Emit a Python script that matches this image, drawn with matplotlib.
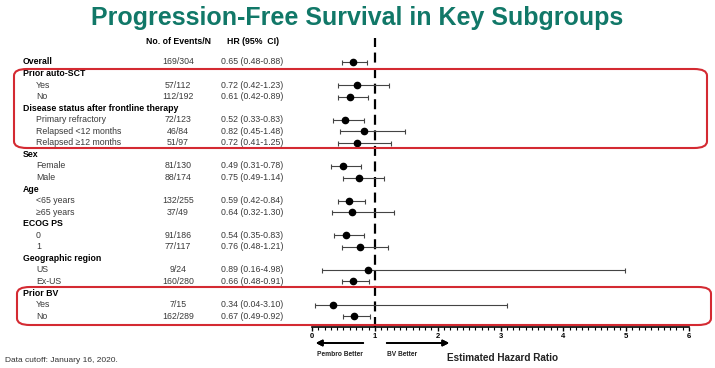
import matplotlib
matplotlib.use('Agg')
import matplotlib.pyplot as plt
from matplotlib.patches import FancyBboxPatch
from matplotlib.transforms import blended_transform_factory
from matplotlib.ticker import MultipleLocator

plt.rcParams['font.family'] = ['Liberation Sans', 'DejaVu Sans']

# subgroup rows
labels = ['Overall', 'Prior auto-SCT', 'Yes', 'No', 'Disease status after frontline therapy',
          'Primary refractory', 'Relapsed <12 months', 'Relapsed \u226512 months', 'Sex', 'Female', 'Male',
          'Age', '<65 years', '\u226565 years', 'ECOG PS', '0', '1', 'Geographic region', 'US', 'Ex-US',
          'Prior BV', 'Yes', 'No']
is_header = [True, True, False, False, True, False, False, False, True, False, False,
             True, False, False, True, False, False, True, False, False, True, False, False]
events = ['169/304', '', '57/112', '112/192', '', '72/123', '46/84', '51/97', '', '81/130', '88/174',
          '', '132/255', '37/49', '', '91/186', '77/117', '', '9/24', '160/280', '', '7/15', '162/289']
hr = [0.65, None, 0.72, 0.61, None, 0.52, 0.82, 0.72, None, 0.49, 0.75,
      None, 0.59, 0.64, None, 0.54, 0.76, None, 0.89, 0.66, None, 0.34, 0.67]
ci_lo = [0.48, None, 0.42, 0.42, None, 0.33, 0.45, 0.41, None, 0.31, 0.49,
         None, 0.42, 0.32, None, 0.35, 0.48, None, 0.16, 0.48, None, 0.04, 0.49]
ci_hi = [0.88, None, 1.23, 0.89, None, 0.83, 1.48, 1.25, None, 0.78, 1.14,
         None, 0.84, 1.30, None, 0.83, 1.21, None, 4.98, 0.91, None, 3.10, 0.92]
x_ticks = [0, 1, 2, 3, 4, 5, 6]

W, H = 715, 368
fig = plt.figure(figsize=(W / 100, H / 100), dpi=100)

def fx(px):
    return px / W

def fy(py):
    return 1 - py / H

ax = fig.add_axes([fx(312), fy(327), fx(689) - fx(312), fy(38) - fy(327)])
row0, step = 62, 11.55
ax.set_ylim((327 - row0) / step, (38 - row0) / step)
ax.set_xlim(0, 6)

for i in range(len(labels)):
    if hr[i] is None:
        continue
    ax.errorbar(hr[i], i, xerr=[[hr[i] - ci_lo[i]], [ci_hi[i] - hr[i]]], fmt='o', color='black',
                ecolor='#444444', elinewidth=0.8, capsize=1.8, capthick=0.8, markersize=4.5, zorder=3)

ax.axvline(1, color='black', lw=1.6, ls=(0, (4.5, 2.5)), zorder=2)

for s in ['top', 'right', 'left']:
    ax.spines[s].set_visible(False)
ax.spines['bottom'].set_linewidth(1.2)
ax.set_yticks([])
ax.set_xticks(x_ticks)
ax.xaxis.set_minor_locator(MultipleLocator(0.1))
ax.tick_params(axis='x', which='major', length=3, width=1, labelsize=5.5, pad=1)
ax.tick_params(axis='x', which='minor', length=2, width=0.8)
for t in ax.get_xticklabels():
    t.set_fontweight('bold')

# table text
tr = blended_transform_factory(fig.transFigure, ax.transData)
for i, lab in enumerate(labels):
    if is_header[i]:
        fig.text(fx(23), i, lab, transform=tr, fontsize=6.3, fontweight='bold', va='center', ha='left')
    else:
        fig.text(fx(36), i, lab, transform=tr, fontsize=6.3, color='#3a3a3a', va='center', ha='left')
    if events[i]:
        fig.text(fx(178), i, events[i], transform=tr, fontsize=6.3, color='#3a3a3a', va='center', ha='center')
    if hr[i] is not None:
        txt = f'{hr[i]:.2f} ({ci_lo[i]:.2f}-{ci_hi[i]:.2f})'
        fig.text(fx(221), i, txt, transform=tr, fontsize=6.3, color='#3a3a3a', va='center', ha='left')

fig.text(fx(178), fy(42), 'No. of Events/N', fontsize=6.3, fontweight='bold', ha='center', va='center')
fig.text(fx(227), fy(42), 'HR (95%  CI)', fontsize=6.3, fontweight='bold', ha='left', va='center')

fig.text(0.5, fy(18), 'Progression-Free Survival in Key Subgroups', fontsize=18, fontweight='bold',
         color='#117868', ha='center', va='center')

# red boxes
for (x0, y0, x1, y1) in [(14, 69, 707, 148), (17, 287, 711, 325)]:
    box = FancyBboxPatch((fx(x0), fy(y1)), fx(x1) - fx(x0), fy(y0) - fy(y1),
                         boxstyle='round,pad=0,rounding_size=0.018', transform=fig.transFigure,
                         fill=False, edgecolor='#d42a32', lw=1.5, zorder=5)
    fig.patches.append(box)

# arrows and labels
fig.add_artist(plt.annotate('', xy=(fx(313), fy(343)), xytext=(fx(366), fy(343)), xycoords='figure fraction',
                            arrowprops=dict(arrowstyle='-|>', color='black', lw=1.3, mutation_scale=9)))
fig.add_artist(plt.annotate('', xy=(fx(452), fy(343)), xytext=(fx(384), fy(343)), xycoords='figure fraction',
                            arrowprops=dict(arrowstyle='-|>', color='black', lw=1.3, mutation_scale=9)))
fig.text(fx(340), fy(354), 'Pembro Better', fontsize=4.8, fontweight='bold', ha='center', va='center', color='#222222')
fig.text(fx(402), fy(354), 'BV Better', fontsize=4.8, fontweight='bold', ha='center', va='center', color='#222222')
fig.text(fx(503), fy(358), 'Estimated Hazard Ratio', fontsize=7.2, fontweight='bold', ha='center', va='center', color='#222222')
fig.text(fx(5), fy(361), 'Data cutoff: January 16, 2020.', fontsize=6, ha='left', va='center', color='#333333')

fig.savefig('out.png', dpi=100)
